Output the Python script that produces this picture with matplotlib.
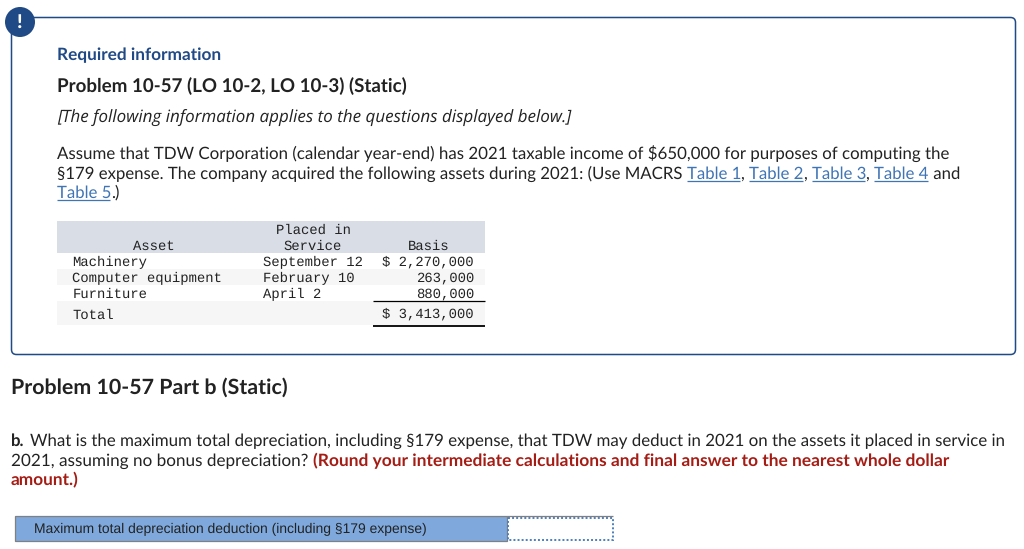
import matplotlib
matplotlib.use('Agg')
import matplotlib.pyplot as plt
from matplotlib.patches import FancyBboxPatch, Rectangle, Circle

plt.rcParams['text.hinting'] = 'no_hinting'

assets = ['Machinery', 'Computer equipment', 'Furniture']
placed = ['September 12', 'February 10', 'April 2']
basis = ['$ 2,270,000', '263,000', '880,000']
total_basis = '$ 3,413,000'

SANS = 'Lato'
MONO = 'Liberation Mono'
NAVY = '#1f4a85'
LINK = '#3f74b5'
DARK = '#222222'
RED = '#a51c14'

fig = plt.figure(figsize=(10.24, 5.49), dpi=100)
ax = fig.add_axes([0, 0, 1, 1])
ax.set_xlim(0, 1024)
ax.set_ylim(549, 0)
ax.axis('off')


def put(x, y, s, size=12.1, color=DARK, weight='normal', style='normal', family=SANS, ha='left'):
    return ax.text(x, y, s, fontsize=size, color=color, fontweight=weight, fontstyle=style,
                   family=family, ha=ha, va='baseline')


def put_runs(x, y, runs, size=12.1):
    # runs of (text, color, underlined) placed one after the other
    rend = fig.canvas.get_renderer()
    for s, color, under in runs:
        t = put(x, y, s, size=size, color=color)
        w = t.get_window_extent(rend).width
        if under:
            ax.plot([x, x + w - 1], [y + 2, y + 2], color=color, lw=0.9, solid_capstyle='butt')
        x += w


# info box
ax.add_patch(FancyBboxPatch((11.5, 17.5), 1004, 337, boxstyle='round,pad=0,rounding_size=5',
                            fc='white', ec=NAVY, lw=1.1))
ax.add_patch(Circle((20, 22), 15, fc=NAVY, ec='none', zorder=3))
ax.text(20, 22.5, '!', color='white', fontsize=14, fontweight='black', family=SANS,
        ha='center', va='center', zorder=4)

put(57, 60, 'Required information', size=12.4, color=NAVY, weight='bold')
put(57, 92, 'Problem 10-57 (LO 10-2, LO 10-3) (Static)', size=13.54, weight='bold')
put(57, 122, '[The following information applies to the questions displayed below.]', size=12.27,
    style='italic', family='Open Sans')

put(57, 160, 'Assume that TDW Corporation (calendar year-end) has 2021 taxable income of $650,000 for purposes of computing the',
    size=12.19)
put_runs(57, 179, [
    ('§179 expense. The company acquired the following assets during 2021: (Use MACRS ', DARK, False),
    ('Table 1', LINK, True), (', ', DARK, False),
    ('Table 2', LINK, True), (', ', DARK, False),
    ('Table 3', LINK, True), (', ', DARK, False),
    ('Table 4', LINK, True), (' and', DARK, False),
])
put_runs(57, 198, [('Table 5', LINK, True), ('.)', DARK, False)])

# asset table
ax.add_patch(Rectangle((57, 221), 428, 32, fc='#d8dde6', ec='none'))
ax.add_patch(Rectangle((57, 269), 428, 16, fc='#f6f6f6', ec='none'))
ax.add_patch(Rectangle((57, 301), 428, 24, fc='#f6f6f6', ec='none'))

mono = dict(size=10.0, family=MONO, color='#222222')
put(154, 250, 'Asset', ha='center', **mono)
put(313, 234, 'Placed in', ha='center', **mono)
put(313, 250, 'Service', ha='center', **mono)
put(429, 250, 'Basis', ha='center', **mono)

row_y = [266, 282, 298]
for y, a, p, b in zip(row_y, assets, placed, basis):
    put(72.5, y, a, **mono)
    put(263, y, p, **mono)
    put(474, y, b, ha='right', **mono)
put(72.5, 319, 'Total', **mono)
put(474, 318, total_basis, ha='right', **mono)
ax.plot([373, 485], [301, 301], color='black', lw=0.9, solid_capstyle='butt')
ax.plot([373, 485], [325.5, 325.5], color='black', lw=1.3, solid_capstyle='butt')

# question
put(11, 394, 'Problem 10-57 Part b (Static)', size=15.36, weight='bold')
put(11, 446, 'b.', weight='bold')
put(30, 446, 'What is the maximum total depreciation, including §179 expense, that TDW may deduct in 2021 on the assets it placed in service in',
    size=12.18)
rend = fig.canvas.get_renderer()
t = put(11, 466, '2021, assuming no bonus depreciation? ', size=12.3)
x_red = 11 + t.get_window_extent(rend).width
put(x_red, 466, '(Round your intermediate calculations and final answer to the nearest whole dollar',
    size=12.54, color=RED, weight='bold')
put(11, 485, 'amount.)', size=12.45, color=RED, weight='bold')

# answer row, the grey top edge runs on over the input box
ax.add_patch(Rectangle((14.5, 515.5), 492.5, 25, fc='#7fa9dc', ec='#808080', lw=0.9))
ax.add_patch(Rectangle((507.5, 517.5), 105, 22, fc='white', ec='#4a7fc0', lw=1.4, ls=(0, (1, 1.1))))
ax.plot([507, 613], [515.5, 515.5], color='#808080', lw=0.9, solid_capstyle='butt')
put(34, 533, 'Maximum total depreciation deduction (including §179 expense)', size=10.04, family='Liberation Sans')

fig.savefig('out.png', dpi=100)
